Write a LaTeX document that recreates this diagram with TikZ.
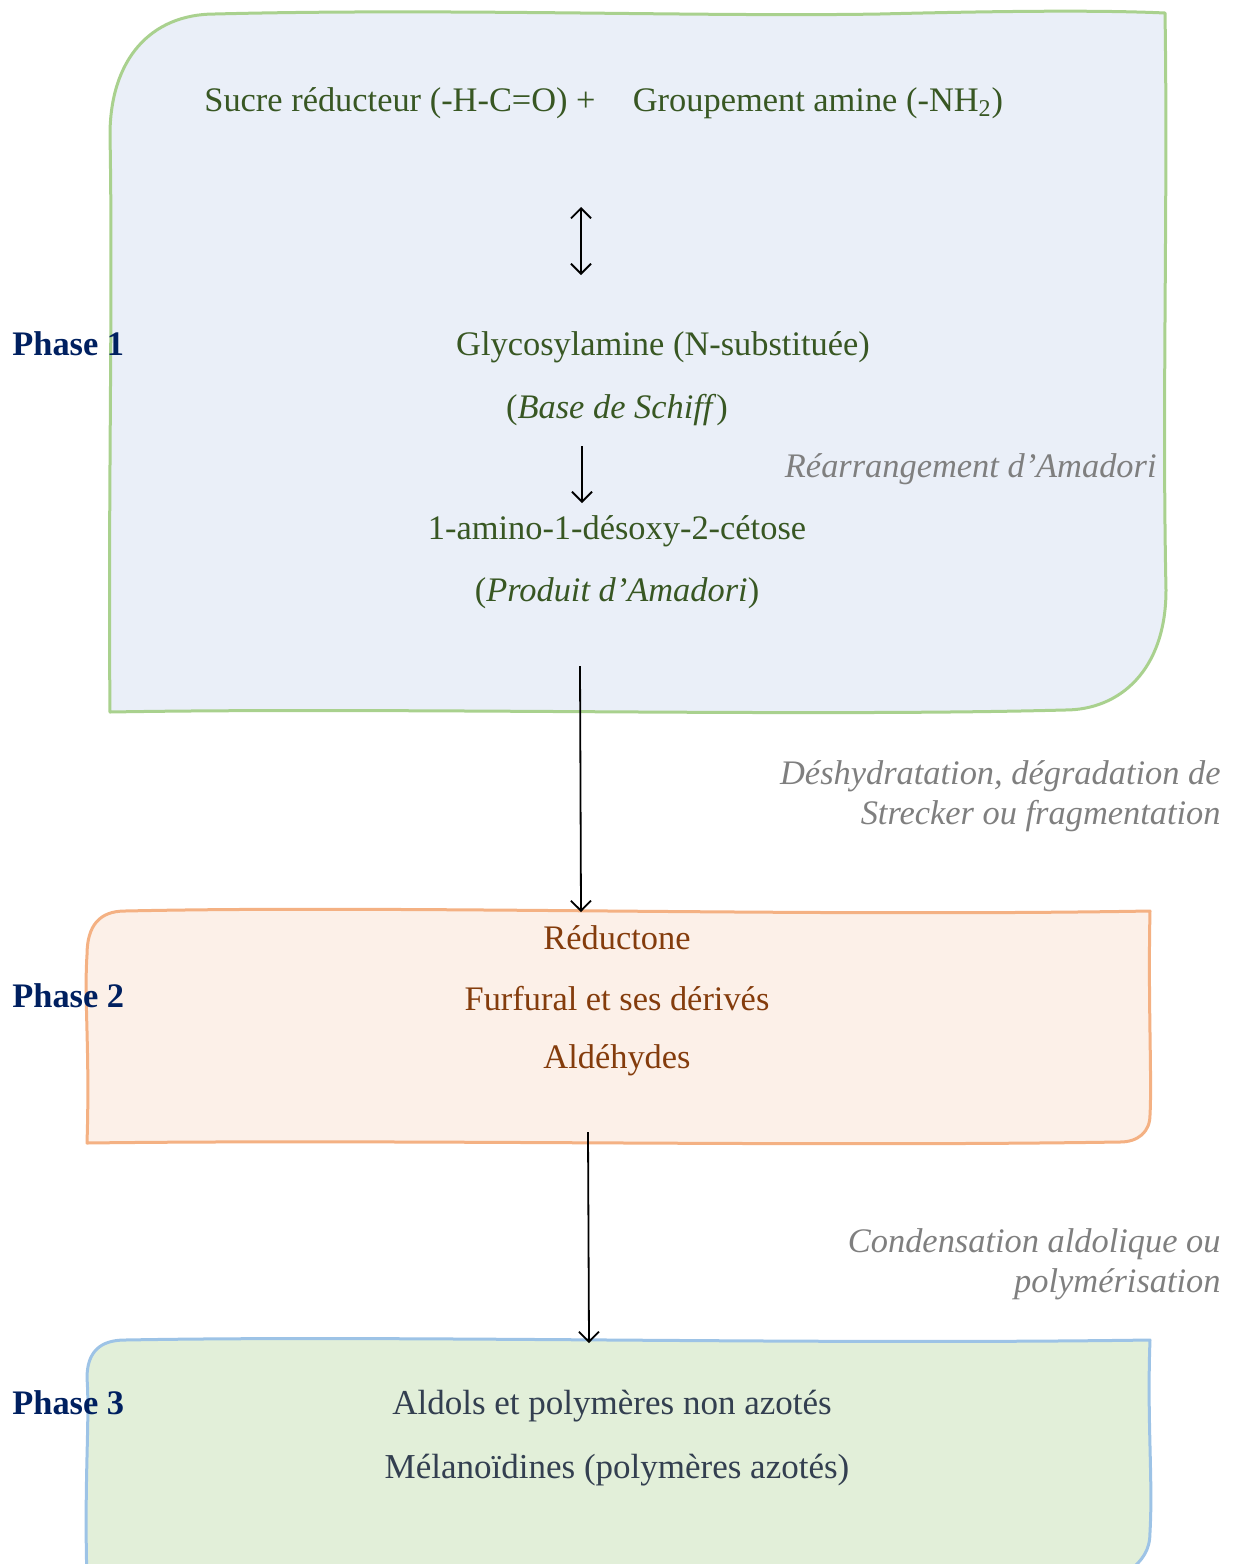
\documentclass[tikz,border=0pt]{standalone}
\usepackage{fontspec}
\setmainfont{Liberation Serif}
\usetikzlibrary{arrows.meta}
\definecolor{bluefill}{HTML}{EAEFF8}
\definecolor{greenline}{HTML}{A9D18E}
\definecolor{orangefill}{HTML}{FCF0E8}
\definecolor{orangeline}{HTML}{F4B183}
\definecolor{greenfill}{HTML}{E2EFD9}
\definecolor{blueline}{HTML}{9DC3E6}
\definecolor{darkgreen}{HTML}{385723}
\definecolor{darkbrown}{HTML}{843C0C}
\definecolor{slate}{HTML}{333F50}
\definecolor{phasenavy}{HTML}{002060}
\definecolor{notegray}{HTML}{7F7F7F}

\begin{document}
\begin{tikzpicture}[x=0.5pt,y=-0.5pt,>={Straight Barb[length=5pt,width=10pt]},font=\fontsize{17.2}{20}\selectfont]
  \tikzset{
    txt/.style={inner sep=0pt,anchor=center},
    note/.style={inner sep=0pt,anchor=east,align=right,text=notegray,font=\fontsize{17.2}{20}\selectfont\itshape},
    phase/.style={inner sep=0pt,anchor=west,text=phasenavy,font=\fontsize{17.2}{20}\selectfont\bfseries},
    frame/.style={line width=1.5pt,line join=round},
    arr/.style={->,line width=0.9pt}
  }
  \useasboundingbox (0,0) rectangle (1235,1564);
  \clip (0,0) rectangle (1235,1564);

  % Phase 1 frame
  \draw[frame,draw=greenline,fill=bluefill]
    (110,712) .. controls (108,500) and (113,300) .. (110,135)
    .. controls (110,60) and (150,14) .. (215,14)
    .. controls (450,8) and (700,17) .. (880,14)
    .. controls (1000,11) and (1100,10) .. (1165,13)
    .. controls (1168,200) and (1162,400) .. (1166,590)
    .. controls (1166,670) and (1120,710) .. (1065,710)
    .. controls (800,717) and (400,707) .. cycle;

  % Phase 2 frame
  \draw[frame,draw=orangeline,fill=orangefill]
    (87,1143) .. controls (90,1050) and (84,1000) .. (87,955)
    .. controls (87,925) and (100,911) .. (125,911)
    .. controls (400,905) and (800,917) .. (1150,911)
    .. controls (1148,1000) and (1152,1080) .. (1150,1115)
    .. controls (1150,1132) and (1138,1142) .. (1120,1142)
    .. controls (800,1147) and (400,1139) .. cycle;

  % Phase 3 frame
  \draw[frame,draw=blueline,fill=greenfill]
    (87,1580) .. controls (84,1480) and (90,1420) .. (87,1378)
    .. controls (87,1352) and (100,1340) .. (125,1340)
    .. controls (400,1335) and (800,1345) .. (1150,1340)
    .. controls (1147,1420) and (1153,1480) .. (1150,1532)
    .. controls (1150,1550) and (1143,1560) .. (1128,1572)
    -- (1128,1580) -- cycle;

  % Phase 1 contents
  \node[txt,text=darkgreen] (sucre) at (400,103) {Sucre réducteur (-H-C=O) +};
  \node[txt,text=darkgreen] (amine) at (818,103) {Groupement amine (-NH\textsubscript{2})};
  \node[txt,text=darkgreen] (glyco) at (663,347) {Glycosylamine (N-substituée)};
  \node[txt,text=darkgreen] (schiff) at (617,410) {(\textit{Base de Schiff})};
  \node[txt,text=darkgreen] (cetose) at (617,531) {1-amino-1-désoxy-2-cétose};
  \node[txt,text=darkgreen] (produit) at (617,593) {(\textit{Produit d’Amadori})};
  \node[note] (rearr) at (1157,469) {Réarrangement d’Amadori};

  \coordinate (eqtop) at (581,207);
  \coordinate (eqbot) at (581,275);
  \coordinate (amtop) at (582,446);
  \coordinate (ambot) at (582,503);
  \draw[<->,line width=0.9pt] (eqtop) -- (eqbot);
  \draw[arr] (amtop) -- (ambot);

  % Phase 2 contents
  \node[txt,text=darkbrown] (reduc) at (617,938) {Réductone};
  \node[txt,text=darkbrown] (furf) at (617,999) {Furfural et ses dérivés};
  \node[txt,text=darkbrown] (aldeh) at (617,1060) {Aldéhydes};
  \node[note] (deshyd) at (1221,796) {Déshydratation, dégradation de\\Strecker ou fragmentation};

  \coordinate (p1out) at (580,666);
  \coordinate (p2in) at (581,912);
  \draw[arr] (p1out) -- (p2in);

  % Phase 3 contents
  \node[txt,text=slate,font=\fontsize{17.5}{20}\selectfont] (aldols) at (612,1406) {Aldols et polymères non azotés};
  \node[txt,text=slate,font=\fontsize{17.5}{20}\selectfont] (melan) at (617,1470) {Mélanoïdines (polymères azotés)};
  \node[note] (conden) at (1221,1264) {Condensation aldolique ou\\polymérisation};

  \coordinate (p2out) at (588,1132);
  \coordinate (p3in) at (589,1343);
  \draw[arr] (p2out) -- (p3in);

  % Phase labels
  \node[phase] (phase1) at (12,344) {Phase 1};
  \node[phase] (phase2) at (12,996) {Phase 2};
  \node[phase] (phase3) at (12,1403) {Phase 3};
\end{tikzpicture}
\end{document}
